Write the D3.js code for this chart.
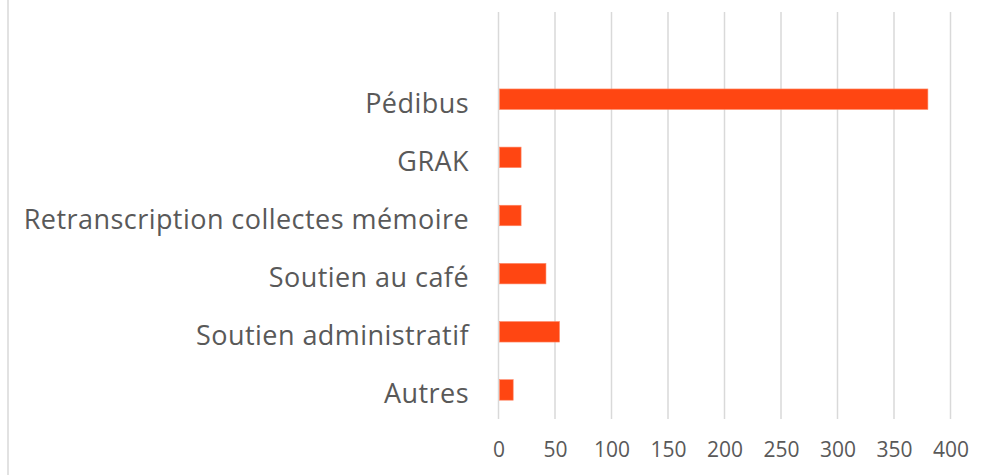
<!DOCTYPE html>
<html>
<head>
<meta charset="utf-8">
<script src="https://cdn.jsdelivr.net/npm/d3@7"></script>
<style>
  html, body { margin: 0; padding: 0; background: #fff; }
  svg { display: block; }
  text { font-family: "Open Sans", "Noto Sans", sans-serif; fill: #595959; font-variant-ligatures: none; }
</style>
</head>
<body>
<svg id="chart" width="990" height="475"></svg>
<script>
// Data (top to bottom as displayed; first category is an empty slot)
const categories = ["", "Pédibus", "GRAK", "Retranscription collectes mémoire", "Soutien au café", "Soutien administratif", "Autres"];
const values = [null, 380, 20, 20, 42, 54, 13];
const tickValues = [0, 50, 100, 150, 200, 250, 300, 350, 400];

const svg = d3.select("#chart");
const W = 990, H = 475;

// Outer chart frame (only left edge visible in the reference)
svg.append("rect")
  .attr("x", 8).attr("y", -5).attr("width", W + 20).attr("height", H + 10)
  .attr("fill", "none").attr("stroke", "#d9d9d9").attr("stroke-width", 1.5);

const plot = { left: 498.5, right: 950.5, top: 12, bottom: 419 };

const x = d3.scaleLinear().domain([0, 400]).range([plot.left, plot.right]);
const y = d3.scaleBand().domain(categories.map((c, i) => i)).range([plot.top, plot.bottom]).paddingInner(0.647).paddingOuter(0.3235);

// Gridlines
svg.append("g")
  .selectAll("line")
  .data(tickValues)
  .join("line")
  .attr("x1", d => x(d)).attr("x2", d => x(d))
  .attr("y1", plot.top).attr("y2", plot.bottom)
  .attr("stroke", "#d9d9d9").attr("stroke-width", 1.5);

// Bars
const data = categories.map((c, i) => ({ c, i, v: values[i] })).filter(d => d.v != null);
svg.append("g")
  .selectAll("rect")
  .data(data)
  .join("rect")
  .attr("x", x(0) + 1)
  .attr("y", d => y(d.i))
  .attr("width", d => x(d.v) - x(0) - 1)
  .attr("height", y.bandwidth())
  .attr("fill", "#ff4612")
  .attr("stroke", "#ff8a6a").attr("stroke-width", 0.6);

// Category labels
const band = (plot.bottom - plot.top) / categories.length;
svg.append("g")
  .selectAll("text")
  .data(categories.map((c, i) => ({ c, i })))
  .join("text")
  .attr("x", 469)
  .attr("y", d => plot.top + band * (d.i + 0.5) + 13.5)
  .attr("text-anchor", "end")
  .attr("font-size", 27)
  .style("letter-spacing", "0.45px")
  .text(d => d.c);

// X axis labels
const xAxis = d3.axisBottom(x).tickValues(tickValues).tickSize(0).tickPadding(0);
const gx = svg.append("g").attr("transform", `translate(0, ${plot.bottom})`).call(xAxis);
gx.select(".domain").remove();
gx.selectAll("text")
  .attr("dy", null)
  .attr("y", 38)
  .attr("font-size", 21)
  .style("font-family", "'Open Sans', 'Noto Sans', sans-serif")
  .attr("fill", "#595959");
</script>
</body>
</html>
